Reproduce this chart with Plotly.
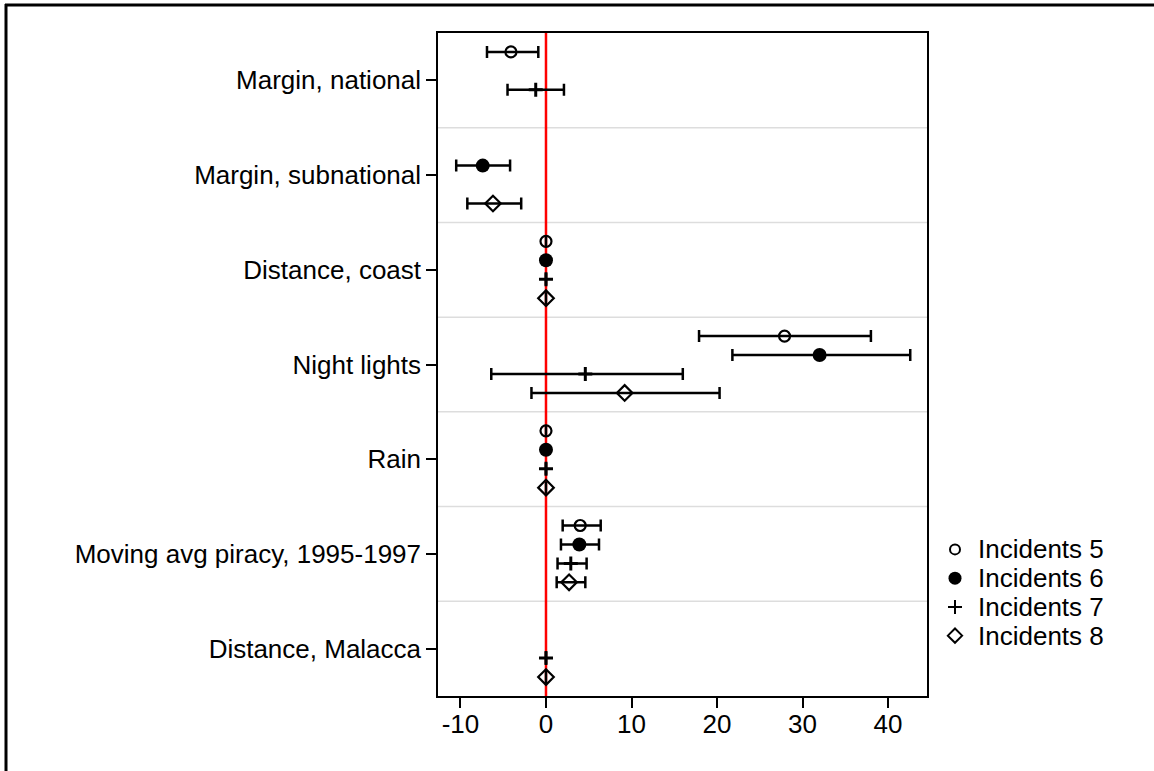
import plotly.graph_objects as go

categories = ["Margin, national", "Margin, subnational", "Distance, coast",
              "Night lights", "Rain", "Moving avg piracy, 1995-1997", "Distance, Malacca"]
series_names = ["Incidents 5", "Incidents 6", "Incidents 7", "Incidents 8"]

# coefficient, lower CI, upper CI for each category (None = not estimated)
inc5_coef = [-4.1, None, 0.0, 27.9, 0.0, 4.0, None]
inc5_lo   = [-6.9, None, 0.0, 17.9, 0.0, 1.95, None]
inc5_hi   = [-0.9, None, 0.0, 38.0, 0.0, 6.4, None]

inc6_coef = [None, -7.4, 0.0, 32.0, 0.0, 3.9, None]
inc6_lo   = [None, -10.5, 0.0, 21.8, 0.0, 1.75, None]
inc6_hi   = [None, -4.2, 0.0, 42.6, 0.0, 6.2, None]

inc7_coef = [-1.2, None, 0.0, 4.6, 0.0, 2.9, 0.0]
inc7_lo   = [-4.5, None, 0.0, -6.4, 0.0, 1.35, 0.0]
inc7_hi   = [2.1, None, 0.0, 16.0, 0.0, 4.75, 0.0]

inc8_coef = [None, -6.2, 0.0, 9.2, 0.0, 2.7, 0.0]
inc8_lo   = [None, -9.2, 0.0, -1.7, 0.0, 1.25, 0.0]
inc8_hi   = [None, -2.9, 0.0, 20.3, 0.0, 4.6, 0.0]

x_ticks = [-10, 0, 10, 20, 30, 40]
x_tick_labels = ["-10", "0", "10", "20", "30", "40"]

markers = [
    dict(symbol="circle-open", size=11, color="black", line=dict(width=2.2, color="black")),
    dict(symbol="circle", size=14, color="black", line=dict(width=0)),
    dict(symbol="cross-thin", size=10, color="black", line=dict(width=3, color="black")),
    dict(symbol="diamond-open", size=12, color="black", line=dict(width=2.2, color="black")),
]
legend_markers = [
    dict(symbol="circle-open", size=10, color="black", line=dict(width=2, color="black")),
    dict(symbol="circle", size=13, color="black", line=dict(width=0)),
    dict(symbol="cross-thin", size=10, color="black", line=dict(width=2, color="black")),
    dict(symbol="diamond-open", size=11, color="black", line=dict(width=2, color="black")),
]
offsets = [-0.3, -0.1, 0.1, 0.3]
data = [(inc5_coef, inc5_lo, inc5_hi), (inc6_coef, inc6_lo, inc6_hi),
        (inc7_coef, inc7_lo, inc7_hi), (inc8_coef, inc8_lo, inc8_hi)]

FONT = "Liberation Sans, Arial, Helvetica, sans-serif"
FS = 26
W, H = 1154, 771
L, R, T, B = 438, 927, 33, 696
def fx(x): return x / W
def fy(y): return (H - y) / H

fig = go.Figure()
for name, (coef, lo, hi), off, marker in zip(series_names, data, offsets, markers):
    xs, ys, ep, em = [], [], [], []
    for i, c in enumerate(coef):
        if c is None:
            continue
        xs.append(c)
        ys.append(i + off)
        ep.append(hi[i] - c)
        em.append(c - lo[i])
    fig.add_trace(go.Scatter(
        x=xs, y=ys, mode="markers", name=name, marker=marker, showlegend=False,
        error_x=dict(type="data", symmetric=False, array=ep, arrayminus=em,
                     color="black", thickness=2.5, width=6),
    ))

# custom legend (markers on an overlay axis, labels as annotations)
annotations = []
for k, (name, lm) in enumerate(zip(series_names, legend_markers)):
    fig.add_trace(go.Scatter(x=[0.5], y=[k], mode="markers", marker=lm, showlegend=False,
                             xaxis="x2", yaxis="y2", cliponaxis=False, hoverinfo="skip"))
    annotations.append(dict(text=name, xref="paper", yref="y2", x=fx(976), y=k,
                            xanchor="left", yanchor="middle", showarrow=False,
                            font=dict(family=FONT, size=FS, color="black")))

shapes = []
for b in [0.5, 1.5, 2.5, 3.5, 4.5, 5.5]:
    shapes.append(dict(type="line", xref="x domain", yref="y", x0=0, x1=1, y0=b, y1=b,
                       line=dict(color="#dddddd", width=1.5), layer="below"))
shapes.append(dict(type="line", xref="x", yref="y domain", x0=0, x1=0, y0=0, y1=1,
                   line=dict(color="red", width=2.5), layer="below"))
# outer frame (top and left edges)
shapes.append(dict(type="line", xref="paper", yref="paper", x0=fx(5), x1=fx(1160), y0=fy(5), y1=fy(5),
                   line=dict(color="black", width=3)))
shapes.append(dict(type="line", xref="paper", yref="paper", x0=fx(6), x1=fx(6), y0=fy(4), y1=fy(780),
                   line=dict(color="black", width=3)))

fig.update_layout(
    width=W, height=H,
    margin=dict(l=0, r=0, t=0, b=0),
    paper_bgcolor="white", plot_bgcolor="white",
    font=dict(family=FONT, size=FS, color="black"),
    showlegend=False,
    shapes=shapes,
    annotations=annotations,
    xaxis=dict(domain=[fx(L), fx(R)], range=[-12.63, 44.56], tickvals=x_ticks, ticktext=x_tick_labels,
               ticks="outside", ticklen=10, tickwidth=1.5, tickcolor="black", showgrid=False,
               zeroline=False, showline=True, linecolor="black", linewidth=1.5, mirror=True,
               ticklabelstandoff=-6,
               tickfont=dict(family=FONT, size=FS, color="black")),
    yaxis=dict(domain=[fy(B), fy(T)], range=[6.5, -0.5], tickvals=list(range(len(categories))),
               ticktext=categories, ticks="outside", ticklen=10, tickwidth=1.5, tickcolor="black",
               showgrid=False, zeroline=False, showline=True, linecolor="black", linewidth=1.5,
               mirror=True, tickfont=dict(family=FONT, size=FS, color="black")),
    xaxis2=dict(domain=[fx(945), fx(965)], range=[0, 1], visible=False, anchor="y2", fixedrange=True),
    yaxis2=dict(domain=[fy(650), fy(535)], range=[3.5, -0.5], visible=False, anchor="x2", fixedrange=True),
)

fig.write_html("out.html", config={"displayModeBar": False},
               post_script="document.body.style.margin='0';document.body.style.overflow='hidden';")
